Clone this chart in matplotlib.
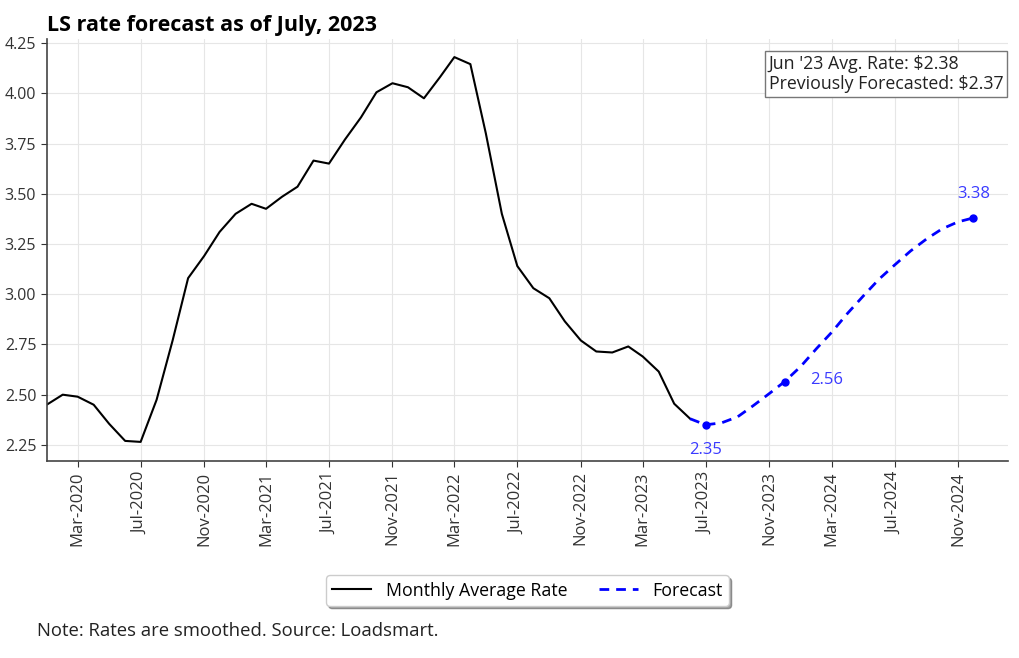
import numpy as np
import pandas as pd
import matplotlib
matplotlib.use("Agg")
import matplotlib.pyplot as plt
import matplotlib.dates as mdates

plt.rcParams['font.family'] = ['Open Sans', 'DejaVu Sans']

# monthly average rate, Jan 2020 .. Jun 2023
actual_dates = pd.date_range("2020-01-01", "2023-06-01", freq="MS")
actual_rate = [2.45, 2.50, 2.49, 2.45, 2.355, 2.27, 2.265, 2.475, 2.77, 3.08, 3.19, 3.31,
               3.40, 3.45, 3.425, 3.485, 3.535, 3.665, 3.65, 3.77, 3.88, 4.005, 4.05, 4.03,
               3.975, 4.08, 4.18, 4.145, 3.80, 3.40, 3.14, 3.03, 2.98, 2.865, 2.77, 2.715,
               2.71, 2.74, 2.69, 2.615, 2.455, 2.38]

# forecast, Jun 2023 .. Dec 2024
fc_dates = pd.date_range("2023-06-01", "2024-12-01", freq="MS")
fc_rate = [2.38, 2.35, 2.36, 2.39, 2.445, 2.505, 2.565, 2.64, 2.73, 2.81, 2.905, 2.99,
           3.075, 3.145, 3.215, 3.275, 3.325, 3.36, 3.38]

# labelled forecast points
label_dates = pd.to_datetime(["2023-07-01", "2023-12-01", "2024-12-01"])
label_vals = [2.35, 2.56, 3.38]

fig = plt.figure(figsize=(10.2, 6.58), dpi=100)
ax = fig.add_axes([0.0458, 0.2994, 0.9425, 0.6413])

ax.plot(actual_dates, actual_rate, color="black", lw=1.5, label="Monthly Average Rate")
ax.plot(fc_dates, fc_rate, color="blue", lw=2, ls=(0, (3.5, 2.5)), label="Forecast")
ax.plot(label_dates, [fc_rate[list(fc_dates).index(d)] for d in label_dates],
        "o", color="blue", ms=5)

lab_col = "#3a3aff"
ax.annotate(f"{label_vals[0]:.2f}", (label_dates[0], fc_rate[1]), xytext=(0, -18),
            textcoords="offset points", ha="center", va="center", color=lab_col, fontsize=12)
ax.annotate(f"{label_vals[1]:.2f}", (label_dates[1], fc_rate[6]), xytext=(18, 1),
            textcoords="offset points", ha="left", va="center", color=lab_col, fontsize=12)
ax.annotate(f"{label_vals[2]:.2f}", (label_dates[2], fc_rate[-1]), xytext=(0, 17),
            textcoords="offset points", ha="center", va="center", color=lab_col, fontsize=12)

ax.text(0.995, 0.962, "Jun '23 Avg. Rate: \\$2.38\nPreviously Forecasted: \\$2.37",
        transform=ax.transAxes, ha="right", va="top", multialignment="left",
        fontsize=12.8, color="#222222", linespacing=1.15,
        bbox=dict(boxstyle="square,pad=0.22", fc="white", ec="#777777", lw=1))

ax.set_xlim(pd.Timestamp("2020-01-01"), pd.Timestamp("2025-02-06"))
ax.set_ylim(2.17, 4.27)
ax.set_yticks([2.25, 2.50, 2.75, 3.00, 3.25, 3.50, 3.75, 4.00, 4.25])
ax.yaxis.set_major_formatter(plt.FormatStrFormatter("%.2f"))
ax.xaxis.set_major_locator(mdates.MonthLocator(bymonth=[3, 7, 11]))
ax.xaxis.set_major_formatter(mdates.DateFormatter("%b-%Y"))
plt.setp(ax.get_xticklabels(), rotation=90)
ax.tick_params(axis="y", labelsize=11.5)
ax.tick_params(axis="x", labelsize=12)
ax.tick_params(colors="#333333", length=4)
ax.grid(True, color="#e6e6e6", lw=0.8)
ax.set_axisbelow(True)
for s in ["top", "right"]:
    ax.spines[s].set_visible(False)
for s in ["left", "bottom"]:
    ax.spines[s].set_color("#444444")
    ax.spines[s].set_linewidth(1.2)

ax.set_title("LS rate forecast as of July, 2023", loc="left", fontweight="bold",
             fontsize=15.5, pad=6)

ax.legend(loc="upper center", bbox_to_anchor=(0.5, -0.25), ncol=2, fontsize=12.8,
          shadow=True, fancybox=True, framealpha=1, columnspacing=1.8, handlelength=2.2,
          borderpad=0.35)

fig.text(0.036, 0.041, "Note: Rates are smoothed. Source: Loadsmart.", fontsize=13.3,
         color="#222222", va="center")

fig.savefig("out.png", dpi=100)
